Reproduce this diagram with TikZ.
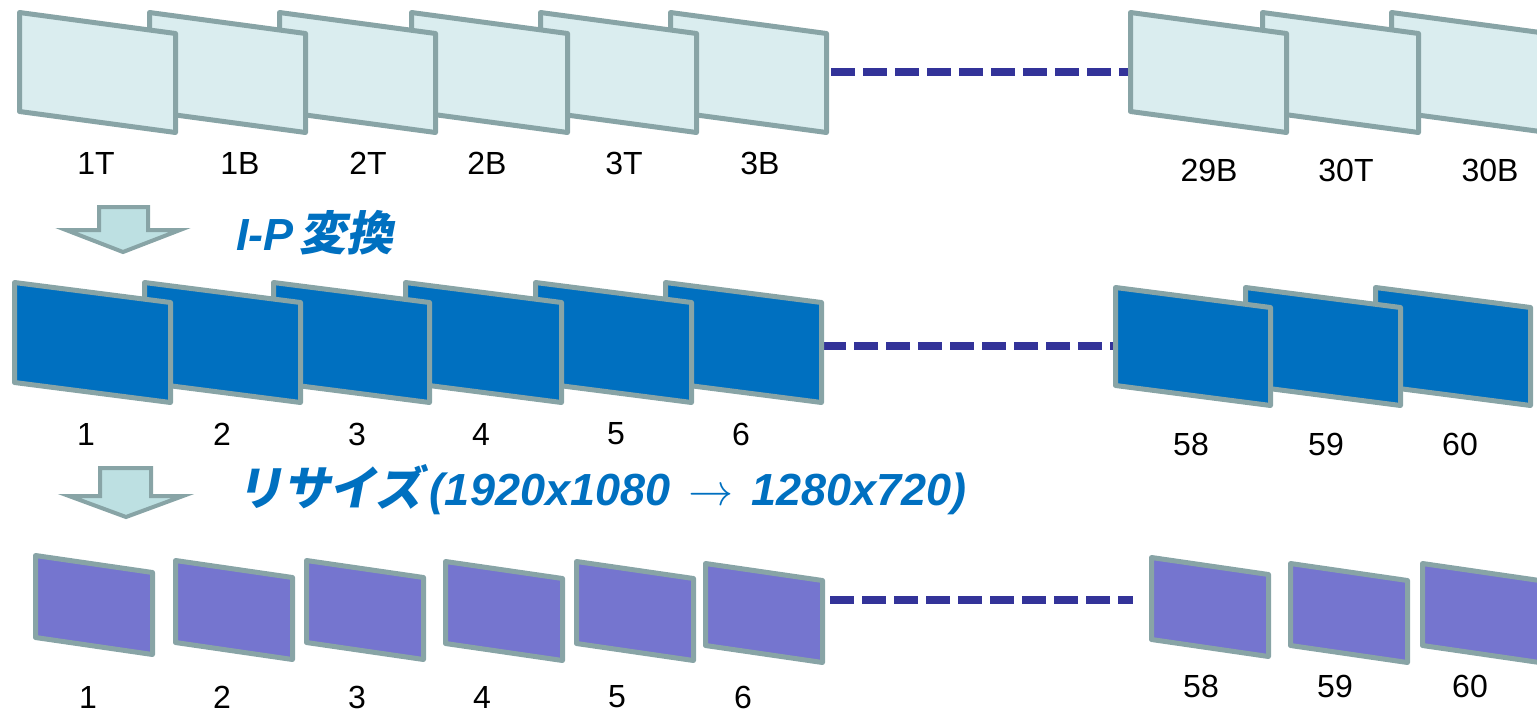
\documentclass[tikz,border=0pt]{standalone}
\usepackage{fontspec}
\setmainfont{Liberation Sans}
\newfontfamily\cjkfont{Noto Sans CJK JP}[FakeSlant=0.2,Scale=1.04]
\newfontfamily\arrowfont{latinmodern-math.otf}
\definecolor{frameline}{HTML}{88A4A6}
\definecolor{fillA}{HTML}{DAEDEF}
\definecolor{fillB}{HTML}{0070C0}
\definecolor{fillC}{HTML}{7575CF}
\definecolor{arrowfill}{HTML}{BDE0E2}
\definecolor{dashcol}{HTML}{333399}
\definecolor{titleblue}{HTML}{0070C0}
\newcommand\frm[6]{%
  \draw[framestyle,fill=#6] (#1+2.5,#2+2.5) -- (#1+#3-2.5,#2+#5+2.5) -- (#1+#3-2.5,#2+#4+#5-2.5) -- (#1+2.5,#2+#4-2.5) -- cycle;}
\begin{document}
\begin{tikzpicture}[x=1pt,y=-1pt,
  framestyle/.style={draw=frameline,line width=5pt,line join=round},
  dashline/.style={draw=dashcol,line width=7.5pt,dash pattern=on 24pt off 8pt},
  lbl/.style={inner sep=0pt,font=\fontsize{32}{36}\selectfont},
  bigarrow/.style={draw=frameline,fill=arrowfill,line width=4pt,line join=miter},
  titletext/.style={inner sep=0pt,anchor=base west,text=titleblue,font=\fontsize{45}{50}\selectfont\bfseries\itshape}]
\useasboundingbox (0,0) rectangle (1537,712);
\clip (0,0) rectangle (1537,712);

% dashed connectors (drawn first, frames cover ends)
\coordinate (d1s) at (831,72);   \coordinate (d1e) at (1130,72);
\coordinate (d2s) at (822,346);  \coordinate (d2e) at (1115,346);
\coordinate (d3s) at (830,600);  \coordinate (d3e) at (1133,600);
\draw[dashline] (d1s) -- (d1e);
\draw[dashline] (d2s) -- (d2e);
\draw[dashline] (d3s) -- (d3e);

% row 1 (fields)
\frm{668}{10}{161}{104}{21}{fillA}
\frm{538}{10}{161}{104}{21}{fillA}
\frm{409}{10}{161}{104}{21}{fillA}
\frm{277}{10}{161}{104}{21}{fillA}
\frm{147}{10}{161}{104}{21}{fillA}
\frm{17}{10}{161}{104}{21}{fillA}
\frm{1389}{10}{161}{104}{21}{fillA}
\frm{1260}{10}{161}{104}{21}{fillA}
\frm{1128}{10}{161}{104}{21}{fillA}

\node[lbl] (l1T) at (96,163) {1T};
\node[lbl] (l1B) at (240,163) {1B};
\node[lbl] (l2T) at (368,163) {2T};
\node[lbl] (l2B) at (487,163) {2B};
\node[lbl] (l3T) at (624,163) {3T};
\node[lbl] (l3B) at (760,163) {3B};
\node[lbl] (l29B) at (1209,170) {29B};
\node[lbl] (l30T) at (1346,170) {30T};
\node[lbl] (l30B) at (1490,170) {30B};

% arrow 1 and title
\draw[bigarrow] (97+2,205+2) -- (150-2,205+2) -- (150-2,228+2) -- (184-4,228+2) -- (123,255-3) -- (62+4,228+2) -- (97+2,228+2) -- cycle;
\node[titletext] (t1) at (236,250) {I-P\hspace{6pt}{\cjkfont\bfseries 変換}};

% row 2 (frames)
\frm{663}{280}{161}{105}{20}{fillB}
\frm{533}{280}{161}{105}{20}{fillB}
\frm{403}{280}{161}{105}{20}{fillB}
\frm{271}{280}{161}{105}{20}{fillB}
\frm{142}{280}{161}{105}{20}{fillB}
\frm{12}{280}{161}{105}{20}{fillB}
\frm{1373}{285}{160}{103}{20}{fillB}
\frm{1243}{285}{160}{103}{20}{fillB}
\frm{1113}{285}{160}{103}{20}{fillB}

\node[lbl] (m1) at (86,434) {1};
\node[lbl] (m2) at (222,434) {2};
\node[lbl] (m3) at (357,434) {3};
\node[lbl] (m4) at (481,434) {4};
\node[lbl] (m5) at (616,434) {5};
\node[lbl] (m6) at (741,434) {6};
\node[lbl] (m58) at (1191,444) {58};
\node[lbl] (m59) at (1326,444) {59};
\node[lbl] (m60) at (1460,444) {60};

% arrow 2 and title
\draw[bigarrow] (98+2,468) -- (153-2,468) -- (153-2,494+2) -- (187-4,494+2) -- (126,520-3) -- (65+4,494+2) -- (98+2,494+2) -- cycle;
\node[titletext] (t2) at (236,505) {{\cjkfont\bfseries リサイズ}\hspace{8pt}(1920x1080\hspace{18pt}{\arrowfont\mdseries\upshape →}\hspace{18pt}1280x720)};

% row 3 (resized)
\frm{33}{553}{122}{87}{17}{fillC}
\frm{173}{558}{122}{87}{17}{fillC}
\frm{304}{558}{122}{87}{17}{fillC}
\frm{443}{559}{122}{87}{17}{fillC}
\frm{574}{559}{122}{87}{17}{fillC}
\frm{703}{561}{122}{87}{17}{fillC}
\frm{1149}{555}{122}{87}{17}{fillC}
\frm{1288}{561}{122}{87}{17}{fillC}
\frm{1420}{561}{122}{87}{17}{fillC}

\node[lbl] (b1) at (88,697) {1};
\node[lbl] (b2) at (222,697) {2};
\node[lbl] (b3) at (357,697) {3};
\node[lbl] (b4) at (482,697) {4};
\node[lbl] (b5) at (617,697) {5};
\node[lbl] (b6) at (743,697) {6};
\node[lbl] (b58) at (1201,686) {58};
\node[lbl] (b59) at (1335,686) {59};
\node[lbl] (b60) at (1470,686) {60};
\end{tikzpicture}
\end{document}
